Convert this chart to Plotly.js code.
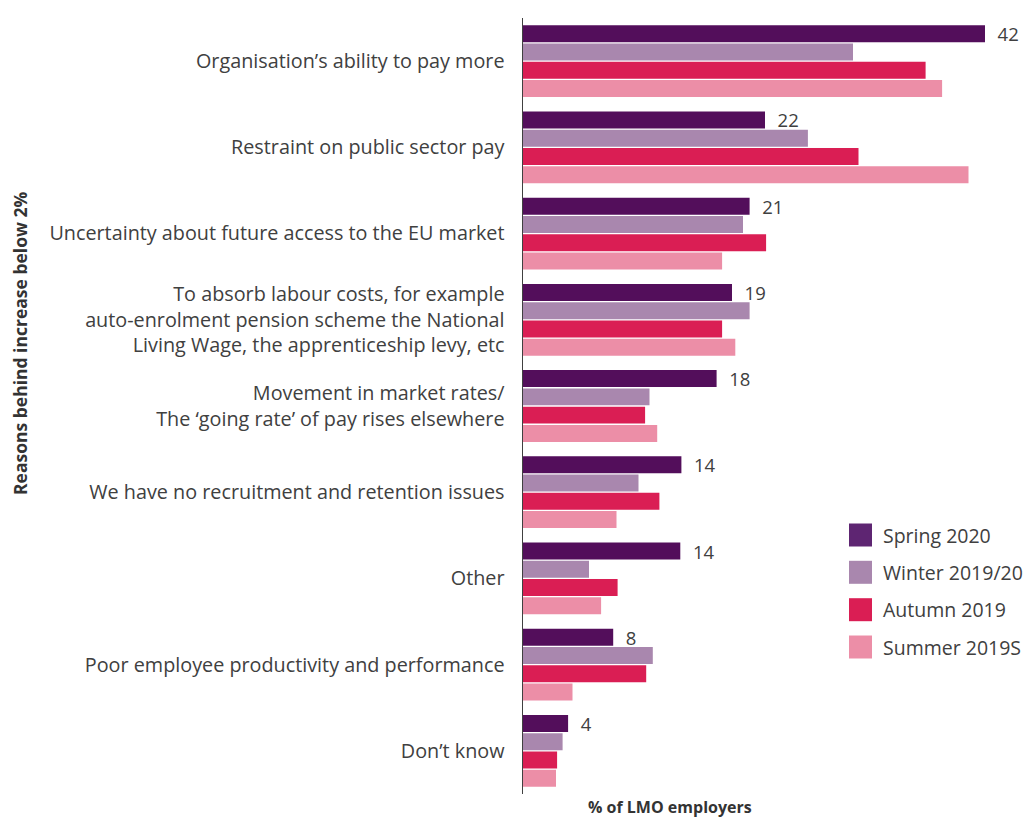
<!DOCTYPE html>
<html>
<head>
<meta charset="utf-8">
<script src="https://cdn.plot.ly/plotly-3.0.1.min.js"></script>
<style>
html,body{margin:0;padding:0;background:#fff;}
#chart{width:1028px;height:820px;}
</style>
</head>
<body>
<div id="chart"></div>
<script>
var categories = [
  "Organisation’s ability to pay more",
  "Restraint on public sector pay",
  "Uncertainty about future access to the EU market",
  "To absorb labour costs, for example<br>auto-enrolment pension scheme the National<br>Living Wage, the apprenticeship levy, etc",
  "Movement in market rates/<br>The ‘going rate’ of pay rises elsewhere",
  "We have no recruitment and retention issues",
  "Other",
  "Poor employee productivity and performance",
  "Don’t know"
];
var seriesNames = ["Spring 2020", "Winter 2019/20", "Autumn 2019", "Summer 2019S"];
var spring = [42, 22, 20.6, 19.0, 17.6, 14.4, 14.3, 8.2, 4.1];
var winter = [30.0, 25.9, 20.0, 20.6, 11.5, 10.5, 6.0, 11.8, 3.6];
var autumn = [36.6, 30.5, 22.1, 18.1, 11.1, 12.4, 8.6, 11.2, 3.1];
var summer = [38.1, 40.5, 18.1, 19.3, 12.2, 8.5, 7.1, 4.5, 3.0];
var springLabels = ["42", "22", "21", "19", "18", "14", "14", "8", "4"];
var colors = ["#530e5b", "#a987ae", "#da1e54", "#ec8ea7"];
var legendColors = ["#5e2572", "#a987ae", "#da1e54", "#ec8ea7"];

var values = [spring, winter, autumn, summer];
var FONT = "'Open Sans', sans-serif";
var TXT = "#404040";

var traces = values.map(function (v, i) {
  var t = {
    type: "bar",
    orientation: "h",
    name: seriesNames[i],
    y: categories,
    x: v,
    marker: { color: colors[i], line: { width: 0 } },
    hoverinfo: "x+name"
  };
  if (i === 0) {
    t.text = springLabels.map(function (s) { return "\u00a0\u00a0" + s; });
    t.textposition = "outside";
    t.constraintext = "none";
    t.textfont = { family: FONT, size: 18.5, color: TXT };
    t.cliponaxis = false;
  }
  return t;
});

var W = 1028, H = 820, ML = 523, MR = 10, MT = 18, MB = 26;
var PW = W - ML - MR, PH = H - MT - MB;
function px2x(p) { return (p - ML) / PW; }
function py2y(p) { return 1 - (p - MT) / PH; }

var shapes = [], annotations = [];
var legY = [535, 572.3, 609.7, 647];
seriesNames.forEach(function (n, i) {
  shapes.push({
    type: "rect", xref: "paper", yref: "paper",
    xsizemode: "pixel", ysizemode: "pixel",
    xanchor: px2x(849), yanchor: py2y(legY[i]),
    x0: 0, x1: 23, y0: -11.5, y1: 11.5,
    fillcolor: legendColors[i], line: { width: 0 }
  });
  annotations.push({
    xref: "paper", yref: "paper",
    x: px2x(881), y: py2y(legY[i]),
    xanchor: "left", yanchor: "middle",
    text: n, showarrow: false,
    font: { family: FONT, size: 19.5, color: TXT }
  });
});
annotations.push({
  xref: "paper", yref: "paper",
  x: px2x(20), y: py2y(343),
  xanchor: "center", yanchor: "middle", textangle: -90,
  text: "<b>Reasons behind increase below 2%</b>", showarrow: false,
  font: { family: FONT, size: 17.5, color: "#333333" }
});
annotations.push({
  xref: "paper", yref: "paper",
  x: px2x(670), y: py2y(807),
  xanchor: "center", yanchor: "middle",
  text: "<b>% of LMO employers</b>", showarrow: false,
  borderpad: 0,
  font: { family: FONT, size: 16, color: "#333333" }
});

var layout = {
  width: W, height: H,
  margin: { l: ML, r: MR, t: MT, b: MB, pad: 0 },
  paper_bgcolor: "#ffffff", plot_bgcolor: "#ffffff",
  barmode: "group",
  bargap: 0.153,
  bargroupgap: 0.07,
  showlegend: false,
  font: { family: FONT, color: TXT },
  xaxis: {
    range: [0, 45], showgrid: false, zeroline: false,
    showticklabels: false, ticks: "", showline: false, fixedrange: true
  },
  yaxis: {
    autorange: "reversed", showgrid: false, zeroline: false,
    showline: true, linecolor: "#404040", linewidth: 1.5,
    ticks: "", ticklabelstandoff: 13,
    tickfont: { family: FONT, size: 19.8, color: TXT },
    automargin: false, fixedrange: true
  },
  shapes: shapes,
  annotations: annotations
};

Plotly.newPlot("chart", traces, layout, { displayModeBar: false, staticPlot: true });
</script>
</body>
</html>
